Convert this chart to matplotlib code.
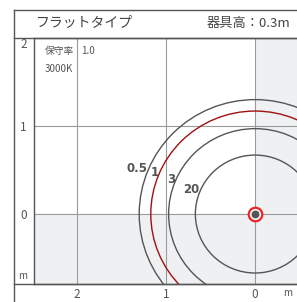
import math
import matplotlib.pyplot as plt
from matplotlib.lines import Line2D
from matplotlib.patches import Circle

plt.rcParams['font.family'] = ['Noto Sans CJK JP', 'DejaVu Sans']

# iso-lux contours (lx) and their radii in metres
lux_levels = ['0.5', '1', '3', '20']
radii = [1.30, 1.17, 0.97, 0.67]
line_colors = ['#555555', '#a01010', '#555555', '#555555']

x_ticks = [2, 1, 0]
y_ticks = [0, 1, 2]

title = "フラットタイプ"
height_label = "器具高：0.3m"
info_lines = ["保守率", "1.0", "3000K"]

W, H = 297, 302
fig = plt.figure(figsize=(W / 100, H / 100), dpi=100)

def fx(px):
    return px / W

def fy(py):
    return 1 - py / H

frame = '#555555'
ax = fig.add_axes([fx(34), fy(284), fx(297) - fx(34), fy(38) - fy(284)])
ax.set_xlim(2.48, -0.47)
ax.set_ylim(-0.795, 2.0)

# background: white in the x>0,y>0 quadrant, light gray elsewhere
ax.set_facecolor('#eff0f2')
ax.fill_between([0, 2.48], 0, 2.0, color='white', zorder=0)

for t in x_ticks:
    ax.axvline(t, color='#9a9a9a', lw=0.8, zorder=1)
for t in y_ticks:
    ax.axhline(t, color='#9a9a9a', lw=0.8, zorder=1)

ang = 0.384  # label direction, ~22 degrees
for r, lab, c in zip(radii, lux_levels, line_colors):
    ax.add_patch(Circle((0, 0), r, fill=False, ec=c, lw=1.0, zorder=3))
    ax.annotate(lab, (r * math.cos(ang), r * math.sin(ang)),
                xytext=(0, 2), textcoords='offset points',
                ha='right', va='center', fontsize=8.5, fontweight='bold',
                color='#555555', family=['Liberation Sans Narrow', 'DejaVu Sans'],
                zorder=4)

# light source marker
ax.scatter([0], [0], s=95, facecolor='white', edgecolor='#ee2222', lw=1.6, zorder=5)
ax.scatter([0], [0], s=22, color='#555555', zorder=6)

ax.spines['right'].set_visible(False)
for side in ['left', 'bottom', 'top']:
    ax.spines[side].set_color(frame)
    ax.spines[side].set_linewidth(1.0)

ax.set_xticks(x_ticks)
ax.set_yticks(y_ticks)
ax.set_xticklabels([str(t) for t in x_ticks])
ax.set_yticklabels([str(t) for t in y_ticks])
ax.tick_params(length=0, labelsize=8.5, labelcolor='#555555')
ax.tick_params(axis='x', pad=3)
ax.tick_params(axis='y', pad=5)
ax.get_yticklabels()[-1].set_va('top')

# unit labels
fig.text(fx(288), fy(293), 'm', fontsize=7, color='#555555', ha='center', va='center')
fig.text(fx(23), fy(276), 'm', fontsize=7, color='#555555', ha='center', va='center')

# info text
fig.text(fx(45), fy(51), info_lines[0], fontsize=7, color='#555555', ha='left', va='center')
fig.text(fx(81), fy(51), info_lines[1], fontsize=7, color='#555555', ha='left', va='center')
fig.text(fx(45), fy(69), info_lines[2], fontsize=7, color='#555555', ha='left', va='center')

# outer frame
for (x0, y0, x1, y1) in [(14, 10, 297, 10), (14, 10, 14, 302),
                         (14, 38, 297, 38), (14, 284, 297, 284)]:
    fig.add_artist(Line2D([fx(x0), fx(x1)], [fy(y0), fy(y1)], color=frame, lw=1.0))

fig.text(fx(36), fy(23), title, fontsize=10, color='#444444', ha='left', va='center')
fig.text(fx(290), fy(24), height_label, fontsize=9.5, color='#444444', ha='right', va='center')

fig.savefig('out.png', dpi=100)
